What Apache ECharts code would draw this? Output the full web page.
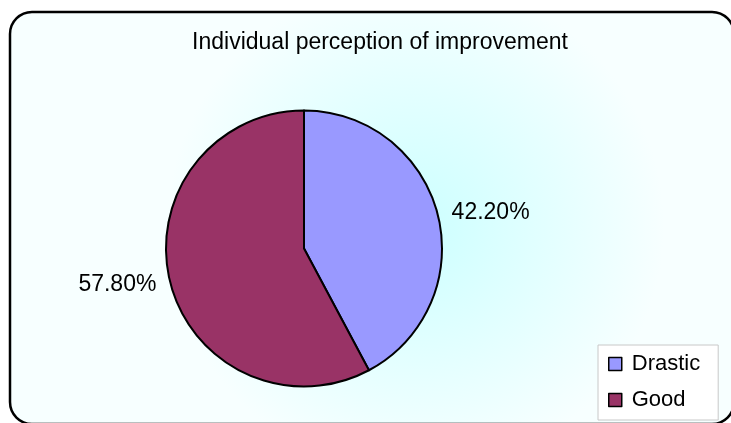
<!DOCTYPE html>
<html lang="en">

<head>
    <meta charset="UTF-8">
    <meta name="viewport" content="width=device-width, initial-scale=1.0">
    <script src="https://cdn.jsdelivr.net/npm/echarts@6/dist/echarts.min.js"></script>
    <title>Individual perception of improvement</title>
    <style>
        html, body { margin: 0; padding: 0; background: #fff; }
    </style>
</head>

<body>
    <div id="main" style="width: 731px;height:423px;"></div>

    <script>
        // chart data
        var chartTitle = 'Individual perception of improvement';
        var categories = ['Drastic', 'Good'];
        var values = [42.2, 57.8];
        var colors = ['#9999FF', '#993366'];

        var pieData = [];
        for (var i = 0; i < categories.length; i++) {
            pieData.push({
                name: categories[i],
                value: values[i],
                itemStyle: { color: colors[i] }
            });
        }

        var myChart = echarts.init(document.getElementById('main'));

        var option = {
            animation: false,
            textStyle: { fontFamily: 'Liberation Sans, Arial, sans-serif' },
            graphic: [{
                type: 'rect',
                z: -10,
                shape: { x: 10, y: 12, width: 724, height: 412, r: 22 },
                style: {
                    fill: new echarts.graphic.RadialGradient(0.56, 0.52, 0.6, [
                        { offset: 0, color: '#ccffff' },
                        { offset: 1, color: '#f7ffff' }
                    ]),
                    stroke: '#000',
                    lineWidth: 2.5
                }
            }],
            title: {
                text: chartTitle,
                left: 375,
                top: 26,
                textAlign: 'center',
                textStyle: {
                    fontFamily: 'Liberation Sans, Arial, sans-serif',
                    fontSize: 23,
                    fontWeight: 'normal',
                    color: '#000'
                }
            },
            legend: {
                orient: 'vertical',
                left: 598,
                top: 345,
                padding: [8, 18, 9, 10],
                itemWidth: 13,
                itemHeight: 13,
                itemGap: 14,
                icon: 'rect',
                backgroundColor: '#fff',
                borderColor: '#c8c8c8',
                borderWidth: 1,
                itemStyle: { borderColor: '#000', borderWidth: 1.5 },
                textStyle: {
                    fontFamily: 'Liberation Sans, Arial, sans-serif',
                    fontSize: 22,
                    color: '#000',
                    padding: [0, 0, 0, 5]
                },
                data: categories
            },
            series: [{
                type: 'pie',
                center: [304, 248.5],
                radius: 138,
                startAngle: 90,
                clockwise: true,
                avoidLabelOverlap: false,
                emphasis: { disabled: true },
                itemStyle: { borderColor: '#000', borderWidth: 2 },
                label: {
                    show: true,
                    position: 'outside',
                    fontFamily: 'Liberation Sans, Arial, sans-serif',
                    fontSize: 23,
                    color: '#000',
                    formatter: function (p) { return p.value.toFixed(2) + '%'; }
                },
                labelLine: { show: false, length: 9, length2: 0 },
                data: pieData
            }]
        };

        myChart.setOption(option);
    </script>

</body>

</html>
